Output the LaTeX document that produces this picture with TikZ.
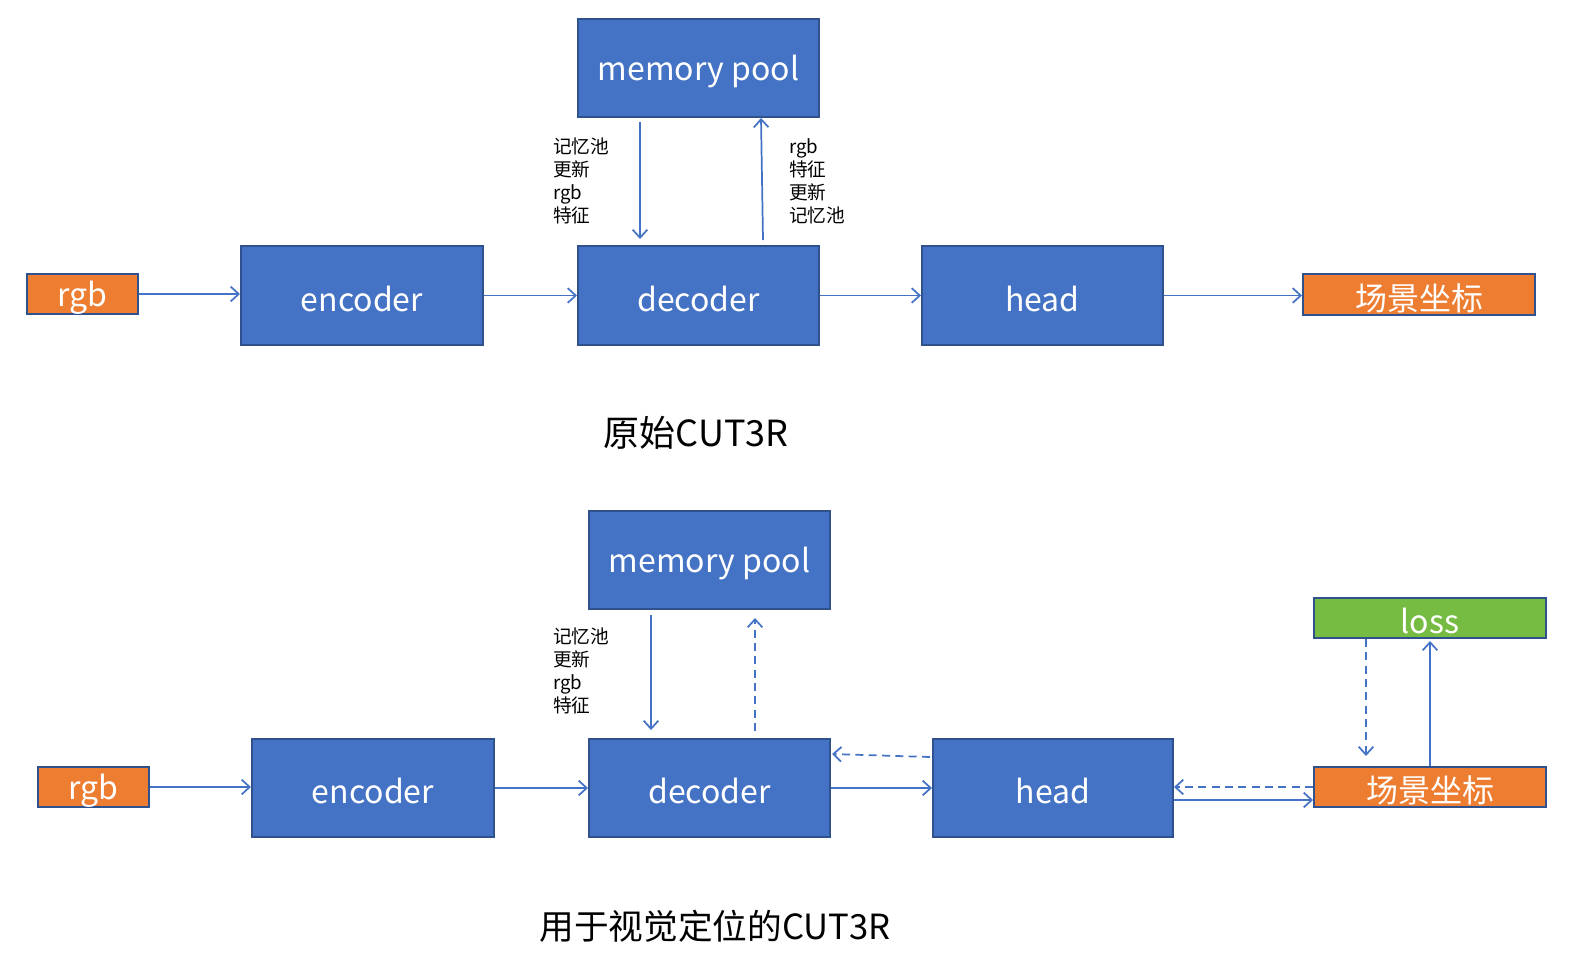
\documentclass[tikz,border=0pt]{standalone}
\usepackage{fontspec}
\setmainfont{Noto Sans CJK SC}
\usetikzlibrary{arrows.meta,calc,fit}
\definecolor{boxblue}{HTML}{4472C4}
\definecolor{boxedge}{HTML}{2F528F}
\definecolor{boxorange}{HTML}{ED7D31}
\definecolor{boxgreen}{HTML}{76BC43}
\definecolor{arrblue}{HTML}{4472C4}
\tikzset{
  x=0.75pt, y=-0.75pt,
  bluebox/.style={draw=boxedge, line width=1.5pt, fill=boxblue, inner sep=0pt},
  orangebox/.style={draw=boxedge, line width=1.5pt, fill=boxorange, inner sep=0pt},
  greenbox/.style={draw=boxedge, line width=1.5pt, fill=boxgreen, inner sep=0pt},
  boxtext/.style={text=white, inner sep=0pt, yshift=-2.5pt, font=\fontsize{24}{28}\selectfont},
  arr/.style={draw=arrblue, line width=1.3pt, -{Straight Barb[length=6pt,width=11pt,line width=1.3pt]}},
  darr/.style={arr, dash pattern=on 6pt off 4pt},
  lbl/.style={align=left, anchor=north west, inner sep=0pt,
    font=\fontsize{14}{17.25}\selectfont},
  ttl/.style={inner sep=0pt, font=\fontsize{27}{32}\selectfont},
}
\begin{document}
\begin{tikzpicture}
\useasboundingbox (0,0) rectangle (1570,958);
% ---------- top diagram ----------
\node[bluebox, fit={(578,19)(819,117)}] (mp1) {};
\node[boxtext] at (mp1.center) (mp1t) {memory pool};
\node[orangebox, fit={(27,274)(138,314)}] (rgb1) {};
\node[boxtext] at (rgb1.center) (rgb1t) {rgb};
\node[bluebox, fit={(241,246)(483,345)}] (enc1) {};
\node[boxtext] at (enc1.center) (enc1t) {encoder};
\node[bluebox, fit={(578,246)(819,345)}] (dec1) {};
\node[boxtext] at (dec1.center) (dec1t) {decoder};
\node[bluebox, fit={(922,246)(1163,345)}] (head1) {};
\node[boxtext] at (head1.center) (head1t) {head};
\node[orangebox, fit={(1303,274)(1535,315)}] (out1) {};
\node[boxtext] at (out1.center) (out1t) {场景坐标};

\draw[arr] (rgb1.east) -- (rgb1.east -| enc1.west);
\draw[arr] (enc1.east) -- (dec1.west);
\draw[arr] (dec1.east) -- (head1.west);
\draw[arr] (head1.east) -- (head1.east -| out1.west);
\draw[arr] ($(mp1.south west)+(63,4)$) -- ($(dec1.north west)+(63,-6)$);
\draw[arr] ($(dec1.north west)+(186,-5)$) -- ($(mp1.south west)+(184,0)$);

\node[lbl] (l1) at (553,138) {记忆池\\更新\\rgb\\特征};
\node[lbl] (r1) at (789,138) {rgb\\特征\\更新\\记忆池};

\node[ttl] (t1) at (696,433) {原始CUT3R};

% ---------- bottom diagram ----------
\node[bluebox, fit={(589,511)(830,609)}] (mp2) {};
\node[boxtext] at (mp2.center) (mp2t) {memory pool};
\node[orangebox, fit={(38,767)(149,807)}] (rgb2) {};
\node[boxtext] at (rgb2.center) (rgb2t) {rgb};
\node[bluebox, fit={(252,739)(494,837)}] (enc2) {};
\node[boxtext] at (enc2.center) (enc2t) {encoder};
\node[bluebox, fit={(589,739)(830,837)}] (dec2) {};
\node[boxtext] at (dec2.center) (dec2t) {decoder};
\node[bluebox, fit={(933,739)(1173,837)}] (head2) {};
\node[boxtext] at (head2.center) (head2t) {head};
\node[orangebox, fit={(1314,767)(1546,807)}] (out2) {};
\node[boxtext] at (out2.center) (out2t) {场景坐标};
\node[greenbox, fit={(1314,598)(1546,638)}] (loss) {};
\node[boxtext] at (loss.center) (losst) {loss};

\draw[arr] (rgb2.east) -- (rgb2.east -| enc2.west);
\draw[arr] (enc2.east) -- (dec2.west);
\draw[arr] (dec2.east) -- (head2.west);
\draw[arr] ($(mp2.south west)+(63,5)$) -- ($(dec2.north west)+(63,-8)$);
\draw[darr] ($(dec2.north west)+(167,-7)$) -- ($(mp2.south west)+(167,8)$);
\draw[darr] ($(head2.north west)+(-2,19)$) -- ($(dec2.north east)+(1,16)$);
\draw[arr] ($(head2.south east)+(0,-38)$) -- ($(out2.south west)+(0,-8)$);
\draw[darr] (out2.west) -- (out2.west -| head2.east);
\draw[darr] ($(loss.south west)+(53,0)$) -- ($(out2.north west)+(53,-10)$);
\draw[arr] ($(out2.north west)+(117,0)$) -- ($(loss.south west)+(117,2)$);

\node[lbl] (l2) at (553,628) {记忆池\\更新\\rgb\\特征};

\node[ttl, font=\fontsize{26}{31}\selectfont] (t2) at (715,926) {用于视觉定位的CUT3R};
\end{tikzpicture}
\end{document}
